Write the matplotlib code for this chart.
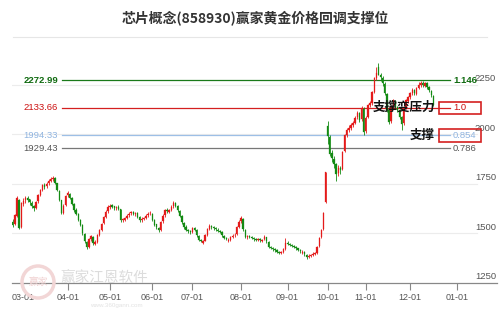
import numpy as np
import matplotlib
matplotlib.use("Agg")
import matplotlib.pyplot as plt
from matplotlib.lines import Line2D
from matplotlib.patches import Rectangle, Ellipse
import matplotlib.transforms as mtransforms

# 日K数据 (交易日序号, 2024-02-23 起)
first_idx = -5
opens = [1560, 1545, 1590, 1670, 1530, 1650, 1668, 1680, 1672, 1655,
         1638, 1630, 1662, 1695, 1718, 1745, 1737, 1752, 1766, 1775,
         1778, 1752, 1715, 1668, 1605, 1642, 1692, 1700, 1678, 1648,
         1620, 1598, 1568, 1540, 1498, 1458, 1433, 1470, 1483, 1448,
         1458, 1492, 1518, 1552, 1585, 1612, 1632, 1642, 1636, 1626,
         1634, 1622, 1566, 1570, 1580, 1592, 1602, 1610, 1596, 1604,
         1583, 1566, 1574, 1580, 1592, 1602, 1600, 1568, 1545, 1528,
         1518, 1562, 1592, 1620, 1610, 1620, 1637, 1655, 1638, 1615,
         1588, 1555, 1532, 1515, 1508, 1505, 1527, 1515, 1488, 1465,
         1452, 1464, 1492, 1522, 1535, 1528, 1525, 1518, 1510, 1505,
         1488, 1475, 1462, 1468, 1482, 1490, 1495, 1532, 1562, 1575,
         1518, 1480, 1486, 1480, 1476, 1468, 1465, 1470, 1463, 1470,
         1480, 1458, 1430, 1426, 1418, 1414, 1406, 1400, 1405, 1422,
         1450, 1446, 1440, 1436, 1430, 1424, 1414, 1400, 1404, 1393,
         1382, 1387, 1390, 1397, 1402, 1435, 1480, 1520, 1660, 2040,
         1985, 1905, 1875, 1848, 1805, 1832, 1825, 1915, 1998, 2020,
         2033, 2048, 2058, 2085, 2105, 2075, 2128, 2015, 2085, 2150,
         2160, 2215, 2285, 2340, 2298, 2285, 2255, 2205, 2120, 2065,
         2140, 2170, 2135, 2120, 2085, 2055, 2135, 2170, 2190, 2210,
         2225, 2205, 2235, 2250, 2260, 2245, 2256, 2236, 2220, 2195]
closes = [1542, 1593, 1678, 1527, 1653, 1665, 1678, 1670, 1660, 1640,
          1628, 1660, 1693, 1720, 1744, 1735, 1750, 1765, 1772, 1779,
          1755, 1719, 1670, 1603, 1640, 1690, 1704, 1680, 1650, 1618,
          1600, 1570, 1542, 1500, 1460, 1431, 1470, 1485, 1450, 1457,
          1490, 1517, 1550, 1583, 1610, 1633, 1640, 1635, 1628, 1632,
          1625, 1568, 1572, 1578, 1590, 1600, 1608, 1598, 1603, 1585,
          1568, 1575, 1578, 1590, 1600, 1603, 1570, 1542, 1530, 1517,
          1560, 1590, 1618, 1612, 1618, 1635, 1653, 1640, 1618, 1590,
          1557, 1530, 1517, 1510, 1507, 1525, 1517, 1490, 1467, 1462,
          1462, 1490, 1520, 1537, 1530, 1527, 1520, 1512, 1507, 1490,
          1477, 1472, 1467, 1480, 1488, 1492, 1530, 1560, 1578, 1520,
          1482, 1485, 1482, 1478, 1470, 1467, 1472, 1465, 1467, 1482,
          1460, 1431, 1428, 1420, 1416, 1408, 1401, 1406, 1420, 1452,
          1448, 1442, 1438, 1431, 1425, 1416, 1410, 1406, 1395, 1381,
          1388, 1391, 1398, 1401, 1431, 1477, 1517, 1603, 1809, 1990,
          1900, 1880, 1850, 1800, 1830, 1820, 1910, 1996, 2021, 2031,
          2046, 2056, 2082, 2107, 2072, 2132, 2011, 2082, 2147, 2157,
          2213, 2283, 2310, 2300, 2288, 2258, 2208, 2122, 2061, 2137,
          2172, 2137, 2122, 2087, 2050, 2132, 2172, 2187, 2208, 2223,
          2208, 2233, 2248, 2258, 2248, 2258, 2238, 2223, 2198, 2150]
highs = [1575, 1600, 1690, 1675, 1660, 1680, 1690, 1688, 1675, 1665,
         1645, 1665, 1700, 1725, 1750, 1752, 1758, 1772, 1782, 1790,
         1782, 1756, 1718, 1670, 1648, 1695, 1712, 1705, 1682, 1652,
         1628, 1602, 1572, 1545, 1502, 1462, 1478, 1492, 1488, 1465,
         1495, 1522, 1555, 1590, 1618, 1642, 1648, 1648, 1640, 1640,
         1642, 1625, 1580, 1585, 1598, 1608, 1615, 1614, 1610, 1608,
         1588, 1582, 1585, 1598, 1606, 1612, 1604, 1572, 1550, 1534,
         1565, 1596, 1625, 1626, 1625, 1642, 1662, 1660, 1642, 1620,
         1592, 1560, 1540, 1522, 1515, 1530, 1532, 1520, 1492, 1470,
         1466, 1495, 1525, 1545, 1540, 1535, 1530, 1525, 1516, 1510,
         1494, 1482, 1478, 1486, 1495, 1500, 1535, 1568, 1590, 1580,
         1522, 1492, 1492, 1486, 1482, 1475, 1478, 1476, 1474, 1490,
         1484, 1462, 1436, 1432, 1425, 1420, 1412, 1412, 1426, 1475,
         1460, 1452, 1448, 1442, 1436, 1428, 1420, 1414, 1410, 1398,
         1395, 1398, 1405, 1408, 1438, 1482, 1522, 1608, 1812, 2065,
         1995, 1920, 1890, 1855, 1845, 1840, 1915, 2000, 2030, 2045,
         2055, 2068, 2090, 2115, 2110, 2140, 2135, 2090, 2155, 2170,
         2220, 2290, 2340, 2358, 2310, 2295, 2262, 2210, 2128, 2145,
         2180, 2175, 2142, 2125, 2090, 2138, 2180, 2195, 2215, 2232,
         2230, 2240, 2262, 2270, 2266, 2265, 2262, 2242, 2225, 2200]
lows = [1530, 1540, 1585, 1520, 1525, 1640, 1655, 1660, 1645, 1630,
        1615, 1625, 1655, 1688, 1712, 1725, 1730, 1745, 1758, 1765,
        1748, 1712, 1662, 1598, 1600, 1638, 1685, 1672, 1642, 1610,
        1592, 1562, 1535, 1492, 1452, 1420, 1428, 1462, 1442, 1440,
        1452, 1485, 1512, 1545, 1578, 1605, 1625, 1628, 1620, 1620,
        1618, 1560, 1558, 1562, 1572, 1585, 1595, 1592, 1588, 1578,
        1560, 1558, 1566, 1572, 1585, 1592, 1562, 1535, 1522, 1508,
        1512, 1555, 1585, 1605, 1602, 1612, 1630, 1632, 1610, 1582,
        1550, 1522, 1510, 1502, 1498, 1500, 1510, 1482, 1460, 1455,
        1448, 1460, 1488, 1515, 1522, 1518, 1512, 1505, 1500, 1482,
        1470, 1465, 1458, 1462, 1476, 1482, 1490, 1526, 1555, 1512,
        1475, 1474, 1475, 1470, 1462, 1460, 1460, 1458, 1458, 1465,
        1454, 1425, 1420, 1412, 1408, 1400, 1394, 1395, 1400, 1418,
        1440, 1435, 1430, 1425, 1418, 1410, 1402, 1398, 1388, 1372,
        1376, 1380, 1385, 1390, 1398, 1430, 1476, 1518, 1655, 1950,
        1890, 1860, 1830, 1765, 1790, 1800, 1820, 1910, 1985, 2010,
        2020, 2035, 2050, 2075, 2060, 2068, 1996, 2008, 2080, 2138,
        2150, 2210, 2275, 2300, 2270, 2245, 2200, 2110, 2050, 2058,
        2130, 2128, 2110, 2078, 2020, 2048, 2128, 2160, 2180, 2200,
        2198, 2200, 2228, 2240, 2238, 2240, 2230, 2215, 2190, 2140]

# 月份刻度: 每月交易日数 (2024-03 ~ 2024-12)
month_labels = ["03-01", "04-01", "05-01", "06-01", "07-01", "08-01",
                "09-01", "10-01", "11-01", "12-01", "01-01"]
month_days = [21, 20, 20, 19, 23, 22, 19, 18, 21, 22]

y_ticks = [1250, 1500, 1750, 2000, 2250]

# 黄金分割位
fib_prices = [2272.99, 2133.66, 1994.33, 1929.43]
fib_ratios = ["1.146", "1.0", "0.854", "0.786"]
fib_colors = ["#1a7a1a", "#d42020", "#9dbfe6", "#777777"]
fib_label_colors = ["#0f6a0f", "#cc1010", "#8fb4e0", "#555555"]
fib_bold = [True, False, False, False]
boxed = [False, True, True, False]
notes = {1: "支撑变压力", 2: "支撑"}

title = "芯片概念(858930)赢家黄金价格回调支撑位"

CJK = ["Noto Sans CJK SC", "DejaVu Sans"]
NUM = ["Liberation Sans", "DejaVu Sans"]

fig = plt.figure(figsize=(4.99, 3.09), dpi=100)
fig.patch.set_facecolor("white")
W, H = 499, 309
ax = fig.add_axes([12 / W, 1 - 283 / H, 485 / W, 238 / H])
ax.set_xlim(-5.35, 224.1)
ax.set_ylim(1250, 2450)

fig.text(0.511, 1 - 18 / H, title, ha="center", va="center", fontsize=10,
         fontweight="bold", color="#333333", family=CJK)
fig.add_artist(Line2D([13 / W, 487 / W], [1 - 37 / H, 1 - 37 / H],
                      color="#e6e6e6", lw=0.8))

# 水印
fig.add_artist(Ellipse((38 / W, 1 - 282 / H), 32 / W, 32 / H,
                       transform=fig.transFigure, fill=False,
                       ec="#f2d6d6", lw=2.5))
fig.text(38 / W, 1 - 282 / H, "赢家", ha="center", va="center", fontsize=7,
         color="#f0d0d0", family=CJK)
fig.text(60 / W, 1 - 279 / H, "赢家江恩软件", ha="left", va="center",
         fontsize=10.5, color="#dcdcdc", family=CJK)
fig.text(90 / W, 1 - 305 / H, "www.360gann.com", ha="left", va="center",
         fontsize=4.5, color="#e2e2e2", family=NUM)

# 网格线 + 右侧刻度
trans = mtransforms.blended_transform_factory(ax.transAxes, ax.transData)
for v in y_ticks:
    if v > 1250:
        ax.axhline(v, xmin=0, xmax=0.959, color="#ececec", lw=0.8, zorder=0)
    ax.text(0.998, v + 8, str(v), transform=trans, ha="right", va="bottom",
            fontsize=6.8, color="#555555", family=NUM)

# K线
xs = np.arange(first_idx, first_idx + len(closes))
o = np.array(opens, dtype=float)
c = np.array(closes, dtype=float)
hi = np.array(highs, dtype=float)
lo = np.array(lows, dtype=float)
up = c >= o
colors = np.where(up, "#e41a1a", "#138a13")
ax.vlines(xs, lo, hi, colors=colors, lw=0.6, zorder=3)
body = np.abs(c - o)
body[body < 3] = 3
ax.bar(xs, body, bottom=np.minimum(o, c), width=0.65, color=colors,
       edgecolor=colors, lw=0.2, zorder=4)

# 黄金分割线
for i, p in enumerate(fib_prices):
    ax.plot([0.103, 0.903], [p, p], transform=trans, color=fib_colors[i],
            lw=0.9, zorder=2)
    ax.text(0.095, p, f"{p:.2f}", transform=trans, ha="right", va="center",
            fontsize=6.8, color=fib_label_colors[i], family=NUM,
            fontweight="bold" if fib_bold[i] else "normal")
    ax.text(0.909, p, fib_ratios[i], transform=trans, ha="left",
            va="center", fontsize=6.8, color=fib_label_colors[i], family=NUM,
            fontweight="bold" if fib_bold[i] else "normal")
    if boxed[i]:
        ax.add_patch(Rectangle((0.880, p - 31), 0.087, 62, transform=trans,
                               fill=False, ec="#d42020", lw=1.2, zorder=6))
    if i in notes:
        ax.text(0.872, p, notes[i], transform=trans, ha="right",
                va="center", fontsize=9, fontweight="bold", color="#111111",
                family=CJK, zorder=7)

# X 轴
tick_pos = np.concatenate([[0], np.cumsum(month_days)])
ax.set_xticks(tick_pos)
ax.set_xticklabels(month_labels, fontsize=6.5, color="#555555", family=NUM)
ax.tick_params(axis="x", length=5, width=0.8, color="#888888", pad=2)
ax.set_yticks([])
for side in ["top", "right", "left"]:
    ax.spines[side].set_visible(False)
ax.spines["bottom"].set_color("#888888")
ax.spines["bottom"].set_linewidth(0.9)
ax.set_facecolor("none")

fig.savefig("out.png", dpi=100, facecolor="white")
